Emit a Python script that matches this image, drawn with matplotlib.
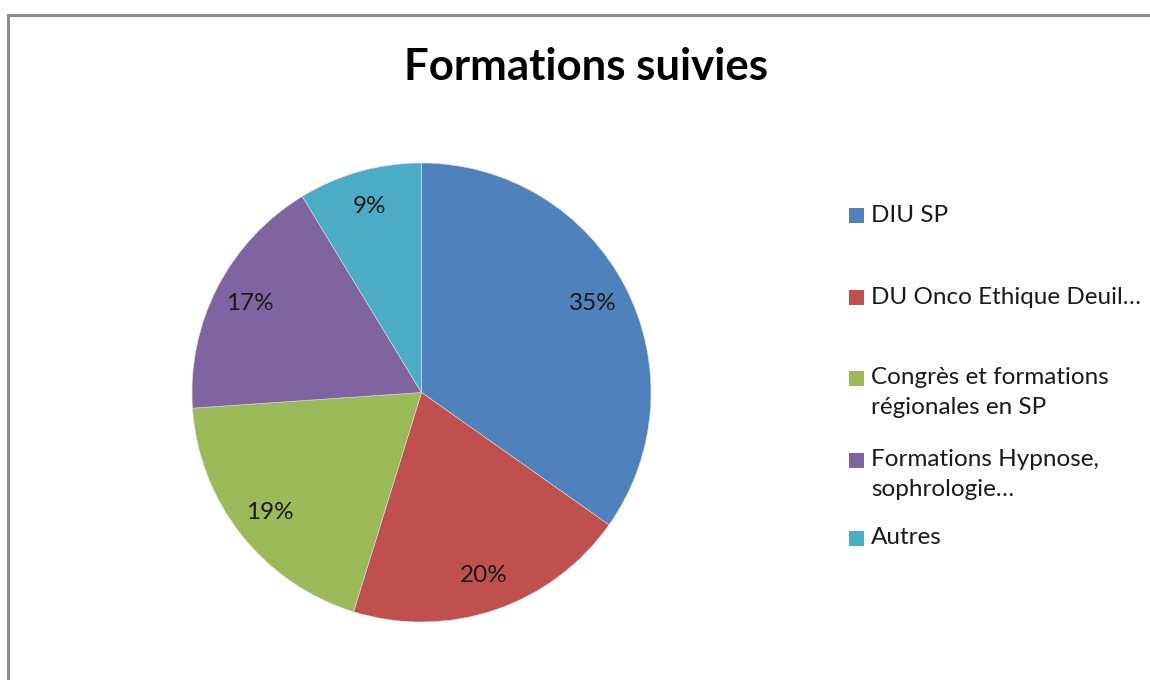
import matplotlib
matplotlib.use("Agg")
import matplotlib.pyplot as plt
from matplotlib.patches import Rectangle

# data
categories = ["DIU SP", "DU Onco Ethique Deuil…", "Congrès et formations\nrégionales en SP",
              "Formations Hypnose,\nsophrologie…", "Autres"]
counts = [40, 23, 22, 20, 10]
colors = ["#4F81BD", "#C0504D", "#9BBB59", "#8064A2", "#4BACC6"]
title = "Formations suivies"

W, H = 1150, 680
fig = plt.figure(figsize=(W / 100, H / 100), dpi=100)
plt.rcParams['font.family'] = ['Lato', 'DejaVu Sans']

# chart frame (only left and top edges are visible)
fig.add_artist(Rectangle((7.5 / W, -0.2), 2.0, 1.2 - 14.5 / H, transform=fig.transFigure,
                         fill=False, edgecolor="#8c8c8c", linewidth=2.2))

# pie: centre (421, 393) px, radius 230 px
cx, cy, r = 421.5, 392.5, 229.5
ax = fig.add_axes([(cx - r) / W, 1 - (cy + r) / H, 2 * r / W, 2 * r / H])
ax.pie(counts, colors=colors, startangle=90, counterclock=False,
       autopct=lambda p: f"{p:.0f}%", pctdistance=0.84,
       wedgeprops=dict(edgecolor="#dcdcdc", linewidth=0.4),
       textprops=dict(fontsize=17.5, color="#1a1a1a"))
ax.set_xlim(-1, 1)
ax.set_ylim(-1, 1)
ax.set_aspect("equal")
ax.axis("off")

fig.text(585.5 / W, 1 - 80 / H, title, ha="center", va="baseline",
         fontsize=31.5, fontweight="bold", color="black")

# legend, laid out like the spreadsheet one
first_line_y = [216, 297, 378, 460, 538]
line_h = 30
for label, col, y in zip(categories, colors, first_line_y):
    fig.add_artist(Rectangle((849 / W, 1 - (y + 7.5) / H), 15 / W, 15 / H,
                             transform=fig.transFigure, facecolor=col, edgecolor="none"))
    for i, line in enumerate(label.split("\n")):
        fig.text(871 / W, 1 - (y + i * line_h) / H, line, ha="left", va="center",
                 fontsize=17.5, color="#1a1a1a")

fig.savefig("out.png", dpi=100, facecolor="white")
